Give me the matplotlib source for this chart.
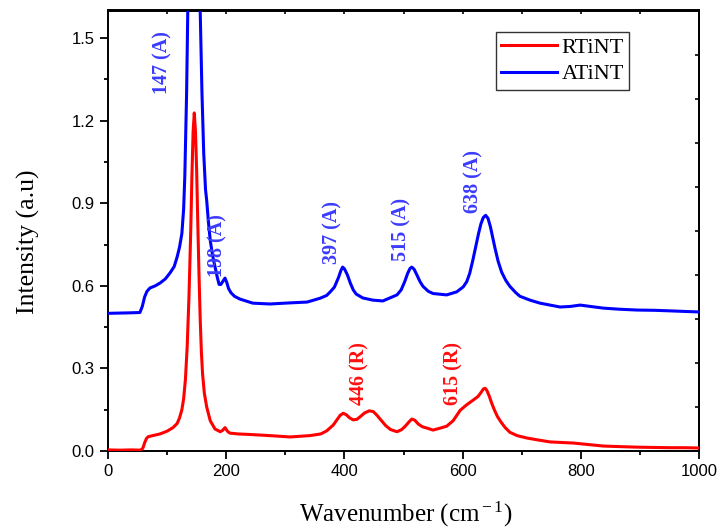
import matplotlib
matplotlib.use("Agg")
import matplotlib.pyplot as plt
from matplotlib.ticker import MultipleLocator
import numpy as np

# ---- data ----
rtint_x = [0, 20, 40, 55, 59, 62, 65, 68, 76, 88, 100, 110, 117, 121, 125, 128, 131, 134, 137,
           140, 142, 144, 146, 148, 150, 152, 154, 156, 158, 160, 163, 167, 173, 181, 190, 194,
           198, 202, 206, 220, 240, 257, 280, 308, 342, 360, 370, 381, 388, 393, 398, 403, 409,
           415, 421, 427, 434, 442, 449, 455, 462, 470, 478, 489, 497, 503, 509, 514, 519, 525,
           532, 540, 550, 562, 573, 584, 596, 607, 618, 626, 631, 635, 638, 641, 645, 649, 654,
           659, 665, 672, 680, 692, 709, 728, 748, 767, 787, 810, 838, 865, 895, 920, 950, 975,
           1000]
rtint_y = [0.004, 0.003, 0.004, 0.003, 0.010, 0.030, 0.045, 0.052, 0.056, 0.062, 0.072, 0.085,
           0.100, 0.120, 0.150, 0.190, 0.260, 0.380, 0.560, 0.800, 1.000, 1.160, 1.228, 1.160,
           1.020, 0.820, 0.640, 0.480, 0.360, 0.280, 0.210, 0.160, 0.110, 0.080, 0.070, 0.075,
           0.085, 0.072, 0.065, 0.062, 0.060, 0.058, 0.055, 0.051, 0.056, 0.062, 0.073, 0.094,
           0.115, 0.130, 0.137, 0.132, 0.120, 0.113, 0.115, 0.125, 0.138, 0.146, 0.143, 0.130,
           0.112, 0.092, 0.078, 0.070, 0.078, 0.090, 0.105, 0.116, 0.112, 0.098, 0.088, 0.083,
           0.076, 0.083, 0.090, 0.110, 0.148, 0.168, 0.185, 0.198, 0.212, 0.225, 0.228, 0.220,
           0.200, 0.175, 0.148, 0.125, 0.105, 0.085, 0.068, 0.056, 0.047, 0.040, 0.033, 0.031,
           0.029, 0.024, 0.018, 0.016, 0.014, 0.013, 0.012, 0.012, 0.011]

atint_x = [0, 20, 40, 54, 58, 62, 66, 71, 80, 88, 97, 105, 112, 117, 121, 125, 128, 130, 133,
           135, 141, 147, 153, 156, 159, 162, 165, 167, 170, 173, 177, 181, 185, 188, 191, 194,
           198, 201, 204, 208, 214, 223, 245, 274, 308, 337, 359, 370, 376, 383, 390, 394, 397,
           400, 405, 410, 415, 420, 431, 448, 465, 489, 496, 502, 507, 511, 514, 518, 523, 528,
           533, 542, 550, 573, 590, 601, 607, 612, 617, 622, 627, 631, 635, 639, 643, 647, 651,
           655, 660, 666, 673, 680, 690, 697, 714, 731, 748, 765, 782, 799, 820, 838, 865, 895,
           925, 951, 975, 1000]
atint_y = [0.500, 0.501, 0.502, 0.503, 0.525, 0.560, 0.580, 0.592, 0.600, 0.610, 0.625, 0.647,
           0.670, 0.705, 0.740, 0.790, 0.880, 1.000, 1.300, 1.600, 2.400, 2.800, 2.400, 1.600,
           1.300, 1.080, 0.950, 0.910, 0.830, 0.765, 0.710, 0.670, 0.630, 0.605, 0.605, 0.615,
           0.628, 0.612, 0.590, 0.575, 0.562, 0.552, 0.537, 0.534, 0.538, 0.541, 0.555, 0.565,
           0.578, 0.595, 0.630, 0.655, 0.668, 0.662, 0.640, 0.610, 0.585, 0.570, 0.556, 0.548,
           0.545, 0.567, 0.585, 0.615, 0.645, 0.663, 0.668, 0.660, 0.638, 0.615, 0.598, 0.580,
           0.572, 0.567, 0.578, 0.596, 0.615, 0.645, 0.690, 0.740, 0.790, 0.825, 0.848, 0.856,
           0.845, 0.815, 0.775, 0.735, 0.690, 0.650, 0.620, 0.598, 0.575, 0.562, 0.548, 0.537,
           0.530, 0.523, 0.525, 0.530, 0.524, 0.519, 0.515, 0.512, 0.511, 0.509, 0.507, 0.505]

series_names = ["RTiNT", "ATiNT"]
series_colors = ["#ff0000", "#0000ff"]

annot_text = ["147 (A)", "198 (A)", "397 (A)", "515 (A)", "638 (A)", "446 (R)", "615 (R)"]
annot_x = [93, 186, 379, 497, 619, 426, 584]
annot_y = [1.41, 0.748, 0.795, 0.803, 0.98, 0.28, 0.283]
annot_color = ["#3b3bff"] * 5 + ["#ff1010"] * 2

xticks = [0, 200, 400, 600, 800, 1000]
yticks = [0.0, 0.3, 0.6, 0.9, 1.2, 1.5]

# ---- figure ----
plt.rcParams["mathtext.fontset"] = "custom"
plt.rcParams["mathtext.rm"] = "Liberation Serif"
plt.rcParams["mathtext.it"] = "Liberation Serif:italic"

fig = plt.figure(figsize=(7.21, 5.31), dpi=100)
ax = fig.add_axes([108 / 721, 1 - 451 / 531, 591 / 721, 440.5 / 531])

ax.plot(rtint_x, rtint_y, color=series_colors[0], lw=2.2, label=series_names[0], zorder=3)
ax.plot(atint_x, atint_y, color=series_colors[1], lw=2.2, label=series_names[1], zorder=3)

ax.set_xlim(0, 1000)
ax.set_ylim(0, 1.6)
ax.set_xticks(xticks)
ax.set_yticks(yticks)
ax.xaxis.set_minor_locator(MultipleLocator(100))
ax.yaxis.set_minor_locator(MultipleLocator(0.15))
ax.set_xticklabels([str(v) for v in xticks], family="Liberation Sans", fontsize=12)
ax.set_yticklabels([f"{v:.1f}" for v in yticks], family="Liberation Sans", fontsize=12)
ax.tick_params(which="major", direction="out", length=6, width=1.3, top=False, right=False)
ax.tick_params(which="minor", direction="out", length=3, width=1.3, top=False, right=False)
for s in ax.spines.values():
    s.set_linewidth(1.4)

# top and right auxiliary tick axes
secx = ax.secondary_xaxis("top")
secx.set_xticks(np.arange(0, 1001, 100))
secx.tick_params(direction="in", length=3, width=1.2, labeltop=False)
secx.spines["top"].set_linewidth(1.4)
secy = ax.secondary_yaxis("right")
secy.set_yticks(np.arange(0, 1.61, 0.16))
secy.tick_params(direction="in", length=3, width=1.2, labelright=False)
secy.spines["right"].set_linewidth(1.4)

for t, x, y, c in zip(annot_text, annot_x, annot_y, annot_color):
    ax.text(x, y, t, rotation=90, ha="center", va="center", color=c,
            family="Liberation Serif", fontweight="bold", fontsize=14.5, zorder=4)

ax.set_xlabel(r"Wavenumber (cm$^{\rm -1}$)", family="Liberation Serif", fontsize=18, va="center")
ax.set_ylabel("Intensity (a.u)", family="Liberation Serif", fontsize=18.5, va="center")
ax.xaxis.set_label_coords(0.503, -0.145)
ax.yaxis.set_label_coords(-0.135, 0.474)

leg = ax.legend(loc="upper right", bbox_to_anchor=(0.882, 0.951), fancybox=False,
                framealpha=1, edgecolor="#333333", handlelength=2.5, borderpad=0.25,
                labelspacing=0.25, handletextpad=0.2, borderaxespad=0,
                prop={"family": "Liberation Serif", "size": 16})
leg.get_frame().set_linewidth(1.0)

fig.savefig("out.png", dpi=100)
